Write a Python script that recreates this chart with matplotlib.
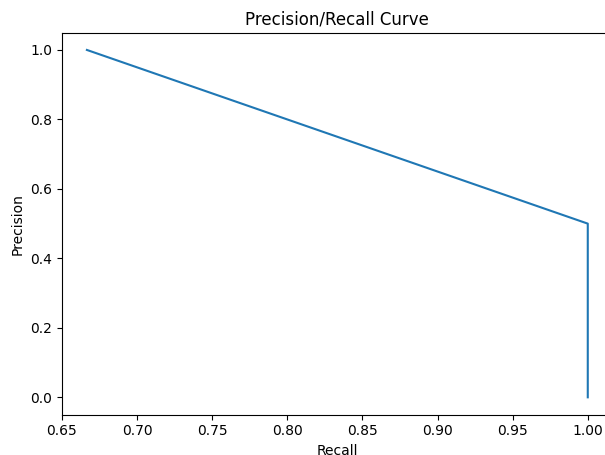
import matplotlib
matplotlib.use('Agg')
import matplotlib.pyplot as plt

# precision/recall points
recall = [1.0, 1.0, 2 / 3]
precision = [0.0, 0.5, 1.0]

fig = plt.figure(figsize=(6.05, 4.55), dpi=100)
# axes run slightly past the right edge, like the cropped original
ax = fig.add_axes([0.102, 0.0886, 0.911, 0.8398])

ax.plot(recall, precision)
ax.set_xlim(0.6499, 1.0167)
ax.set_xticks([0.65, 0.70, 0.75, 0.80, 0.85, 0.90, 0.95, 1.00])
ax.set_title('Precision/Recall Curve')
ax.set_xlabel('Recall')
ax.set_ylabel('Precision')

fig.savefig('out.png', dpi=100)
